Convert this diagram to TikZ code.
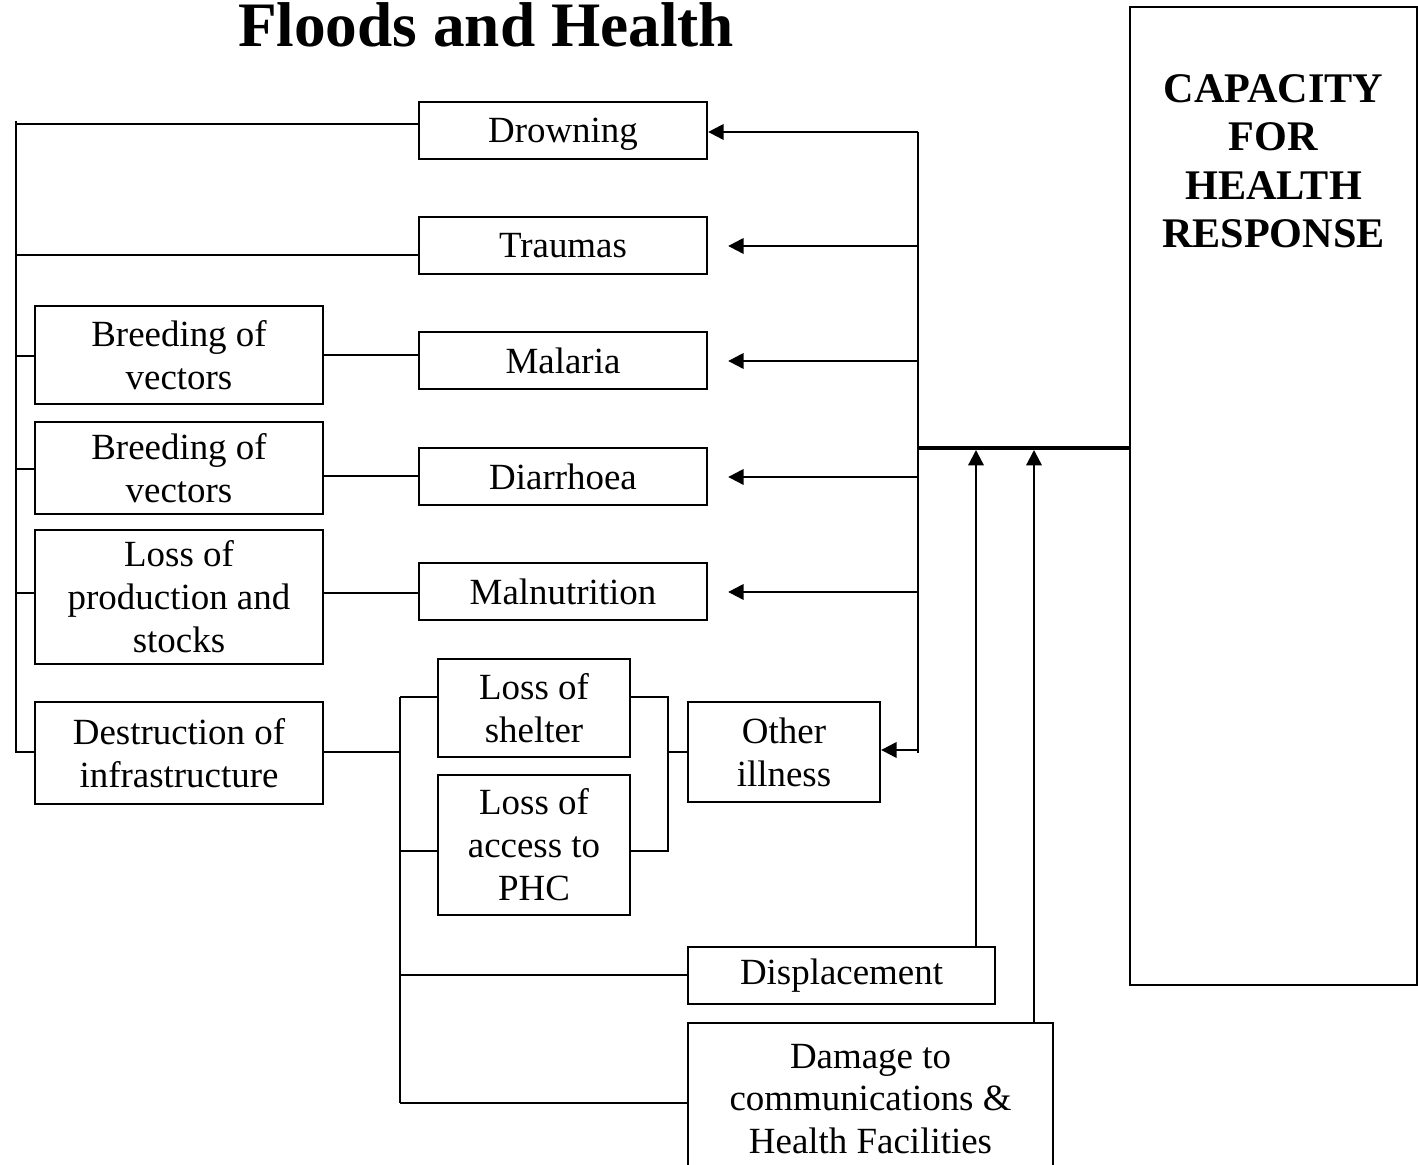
\documentclass[tikz,border=0pt]{standalone}
\usepackage{fontspec}
\setmainfont{Liberation Serif}
\usetikzlibrary{arrows.meta}
\begin{document}
\begin{tikzpicture}[x=0.01cm,y=-0.01cm,line width=0.65pt,
  box/.style={draw, inner sep=0pt, align=center, font=\fontsize{10.5}{12.2}\selectfont},
  sz/.style 2 args={minimum width=#1*0.01cm, minimum height=#2*0.01cm},
  arr/.style={-{Triangle[length=4.4pt,width=4.4pt]}},
  gap/.style={shorten >=0.2cm},
  bus/.style={line width=1.4pt}]
\useasboundingbox (0,0) rectangle (1418,1165);
\clip (0,0) rectangle (1418,1165);

% title
\node[font=\fontsize{18}{20}\bfseries\selectfont, anchor=base, inner sep=0pt] (title) at (486,47) {Floods and Health};

% health outcomes
\node[box, sz={288}{57}, text depth=0pt] (drown)  at (563,130.5) {Drowning};
\node[box, sz={288}{57}] (trauma) at (563,245.5) {Traumas};
\node[box, sz={288}{57}] (mal)    at (563,360.5) {Malaria};
\node[box, sz={288}{57}] (diar)   at (563,476.5) {Diarrhoea};
\node[box, sz={288}{57}] (malnut) at (563,591.5) {Malnutrition};

% causes on the left
\node[box, sz={288}{98}]  (breedA) at (179,355) {Breeding of\\vectors};
\node[box, sz={288}{92}]  (breedB) at (179,468) {Breeding of\\vectors};
\node[box, sz={288}{134}] (lossp)  at (179,597) {Loss of\\production and\\stocks};
\node[box, sz={288}{102}] (destr)  at (179,753) {Destruction of\\infrastructure};

% consequences of destroyed infrastructure
\node[box, sz={192}{98}]  (shelter) at (534,708) {Loss of\\shelter};
\node[box, sz={192}{140}] (access)  at (534,845) {Loss of\\access to\\PHC};
\node[box, sz={192}{100}] (other)   at (784,752) {Other\\illness};
\node[box, sz={307}{57}]  (displ)   at (841.5,975.5) {Displacement};
\node[box, sz={365}{152}] (damage)  at (870.5,1099) {Damage to\\communications \&\\Health Facilities};

% capacity column
\node[draw, sz={287}{978}, inner sep=0pt] (cap) at (1273.5,496) {};
\node[anchor=north, inner sep=0pt, align=center,
      font=\fontsize{12}{13.8}\bfseries\selectfont] (captxt) at (1273.5,73)
  {CAPACITY\\FOR\\HEALTH\\RESPONSE};

% left bus
\coordinate (LT) at (16,121);
\coordinate (LB) at (16,753);
\draw (LT) -- (LB);
\coordinate (L1) at (16,124);
\coordinate (L2) at (16,255);
\coordinate (L3) at (16,356);
\coordinate (L4) at (16,469);
\coordinate (L5) at (16,593);
\coordinate (L6) at (16,752);
\draw (L1) -- (L1 -| drown.west);
\draw (L2) -- (L2 -| trauma.west);
\draw (L3) -- (L3 -| breedA.west);
\draw (L4) -- (L4 -| breedB.west);
\draw (L5) -- (L5 -| lossp.west);
\draw (L6) -- (L6 -| destr.west);

% causes to outcomes
\draw (breedA.east) -- (breedA.east -| mal.west);
\draw ([yshift=-0.08cm]breedB.east) -- ([yshift=-0.08cm]breedB.east -| diar.west);
\draw ([yshift=0.04cm]lossp.east) -- ([yshift=0.04cm]lossp.east -| malnut.west);

% right bus with arrows to outcomes
\coordinate (RT) at (918,132);
\coordinate (RB) at (918,753);
\draw (RT) -- (RB);
\coordinate (R2) at (918,246);
\coordinate (R3) at (918,361);
\coordinate (R4) at (918,477);
\coordinate (R5) at (918,592);
\coordinate (R6) at (918,750);
\draw[arr] (RT) -- (RT -| drown.east);
\draw[arr,gap] (R2) -- (R2 -| trauma.east);
\draw[arr,gap] (R3) -- (R3 -| mal.east);
\draw[arr,gap] (R4) -- (R4 -| diar.east);
\draw[arr,gap] (R5) -- (R5 -| malnut.east);
\draw[arr] (R6) -- (R6 -| other.east);

% heavy link to the capacity column
\coordinate (H) at (918,448);
\draw[bus] (H) -- (H -| cap.west);
\coordinate (UA) at (976,448);
\coordinate (UB) at (1034,448);
\draw[arr] (UA |- displ.north) -- ([yshift=-0.02cm]UA);
\draw[arr] (UB |- damage.north) -- ([yshift=-0.02cm]UB);

% infrastructure branches
\coordinate (DT) at (400,697);
\coordinate (DB) at (400,1103);
\draw (destr.east |- 0,752) -- (400,752);
\draw (DT) -- (DB);
\draw (DT) -- (DT -| shelter.west);
\coordinate (D2) at (400,851);
\coordinate (D3) at (400,975);
\draw (D2) -- (D2 -| access.west);
\draw (D3) -- (D3 -| displ.west);
\draw (DB) -- (DB -| damage.west);

% shelter and access merge into other illness
\coordinate (MT) at (668,697);
\coordinate (MB) at (668,851);
\coordinate (MM) at (668,752);
\draw (MT -| shelter.east) -- (MT) -- (MB) -- (MB -| access.east);
\draw (MM) -- (MM -| other.west);
\end{tikzpicture}
\end{document}
